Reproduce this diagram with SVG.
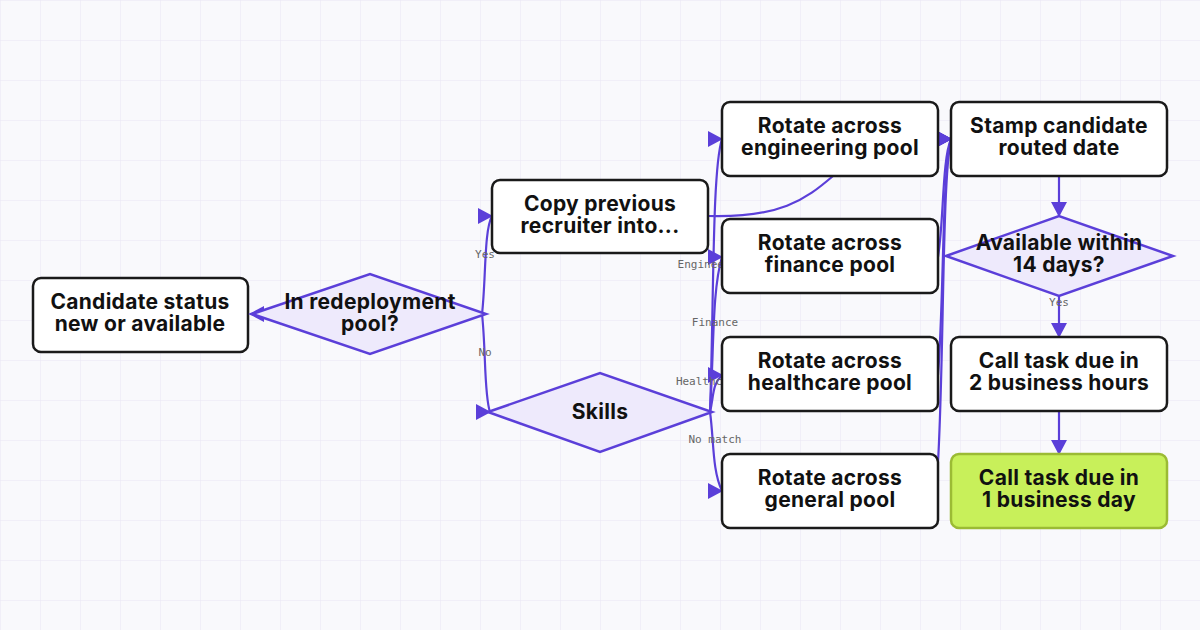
<svg xmlns="http://www.w3.org/2000/svg" width="1200" height="630" viewBox="0 0 1200 630">
<defs>
<pattern id="grid" width="40" height="40" patternUnits="userSpaceOnUse"><path d="M40 0H0V40" fill="none" stroke="#e9e6f4" stroke-width="1"/></pattern>
<marker id="ah" markerWidth="15" markerHeight="16" refX="14" refY="8" orient="auto" markerUnits="userSpaceOnUse"><path d="M0,0 L15,8 L0,16 Z" fill="#5b3fd9"/></marker>
<marker id="ar" markerWidth="15" markerHeight="16" refX="14" refY="8" orient="0" markerUnits="userSpaceOnUse"><path d="M0,0 L15,8 L0,16 Z" fill="#5b3fd9"/></marker>
<style>
.box{fill:#fff;stroke:#1a1a1a;stroke-width:2.5}
.dia{fill:#eeeafc;stroke:#5b3fd9;stroke-width:2.5}
.t{font-family:Inter,"Liberation Sans",sans-serif;font-weight:700;font-size:21px;fill:#111;text-anchor:middle;letter-spacing:0.3px}
.c{fill:none;stroke:#5b3fd9;stroke-width:2.2}
.l{font-family:"DejaVu Sans Mono","Liberation Mono",monospace;font-size:11px;fill:#666;text-anchor:middle}
</style>
</defs>
<rect width="1200" height="630" fill="#f9f9fc"/>
<rect width="1200" height="630" fill="url(#grid)"/>
<g id="connectors">
<path class="c" d="M264,314 L250,314" marker-end="url(#ah)"/>
<path class="c" d="M482,314 C486,280 484,230 492,216" marker-end="url(#ar)"/>
<path class="c" d="M482,314 C486,350 484,395 490,412" marker-end="url(#ar)"/>
<path class="c" d="M710,412 C714,300 712,170 722,139" marker-end="url(#ar)"/>
<path class="c" d="M710,412 C714,350 712,290 722,257" marker-end="url(#ar)"/>
<path class="c" d="M710,412 C714,395 712,385 722,375" marker-end="url(#ar)"/>
<path class="c" d="M710,412 C714,440 712,470 722,491" marker-end="url(#ar)"/>
<path class="c" d="M708,216 C780,218 805,200 833,176"/>
<path class="c" d="M938,139 L951,139" marker-end="url(#ar)"/>
<path class="c" d="M938,257 C944,220 942,160 951,139" marker-end="url(#ar)"/>
<path class="c" d="M938,375 C944,300 942,170 951,139" marker-end="url(#ar)"/>
<path class="c" d="M938,462 C944,360 942,180 951,139" marker-end="url(#ar)"/>
<path class="c" d="M1059,176 L1059,216" marker-end="url(#ah)"/>
<path class="c" d="M1059,296 L1059,337" marker-end="url(#ah)"/>
<path class="c" d="M1059,411 L1059,454" marker-end="url(#ah)"/>
<text class="l" x="485" y="258">Yes</text>
<text class="l" x="485" y="356">No</text>
<text class="l" x="714" y="268">Engineering</text>
<text class="l" x="715" y="326">Finance</text>
<text class="l" x="709" y="385">Healthcare</text>
<text class="l" x="715" y="443">No match</text>
<text class="l" x="1059" y="306">Yes</text>
</g>
<g id="candidate"><rect class="box" x="33" y="278" width="215" height="74" rx="8"/><text class="t" x="140" y="309">Candidate status</text><text class="t" x="140" y="331">new or available</text></g>
<g id="redeploy"><path class="dia" d="M252,314 L370,274 L486,314 L370,354 Z"/><text class="t" x="370" y="309">In redeployment</text><text class="t" x="370" y="331">pool?</text></g>
<g id="copy"><rect class="box" x="492" y="180" width="216" height="73" rx="8"/><text class="t" x="600" y="211">Copy previous</text><text class="t" x="600" y="233">recruiter into...</text></g>
<g id="skills"><path class="dia" d="M488,412 L600,373 L712,412 L600,452 Z"/><text class="t" x="600" y="419">Skills</text></g>
<g id="eng"><rect class="box" x="722" y="102" width="216" height="74" rx="8"/><text class="t" x="830" y="133">Rotate across</text><text class="t" x="830" y="155">engineering pool</text></g>
<g id="fin"><rect class="box" x="722" y="219" width="216" height="74" rx="8"/><text class="t" x="830" y="250">Rotate across</text><text class="t" x="830" y="272">finance pool</text></g>
<g id="health"><rect class="box" x="722" y="337" width="216" height="74" rx="8"/><text class="t" x="830" y="368">Rotate across</text><text class="t" x="830" y="390">healthcare pool</text></g>
<g id="general"><rect class="box" x="722" y="454" width="216" height="74" rx="8"/><text class="t" x="830" y="485">Rotate across</text><text class="t" x="830" y="507">general pool</text></g>
<g id="stamp"><rect class="box" x="951" y="102" width="216" height="74" rx="8"/><text class="t" x="1059" y="133">Stamp candidate</text><text class="t" x="1059" y="155">routed date</text></g>
<g id="avail"><path class="dia" d="M946,256 L1059,216 L1173,256 L1059,296 Z"/><text class="t" x="1059" y="250">Available within</text><text class="t" x="1059" y="272">14 days?</text></g>
<g id="call2h"><rect class="box" x="951" y="337" width="216" height="74" rx="8"/><text class="t" x="1059" y="368">Call task due in</text><text class="t" x="1059" y="390">2 business hours</text></g>
<g id="call1d"><rect x="951" y="454" width="216" height="74" rx="8" fill="#c8f05a" stroke="#9bbb34" stroke-width="2.5"/><text class="t" x="1059" y="485">Call task due in</text><text class="t" x="1059" y="507">1 business day</text></g>
</svg>
